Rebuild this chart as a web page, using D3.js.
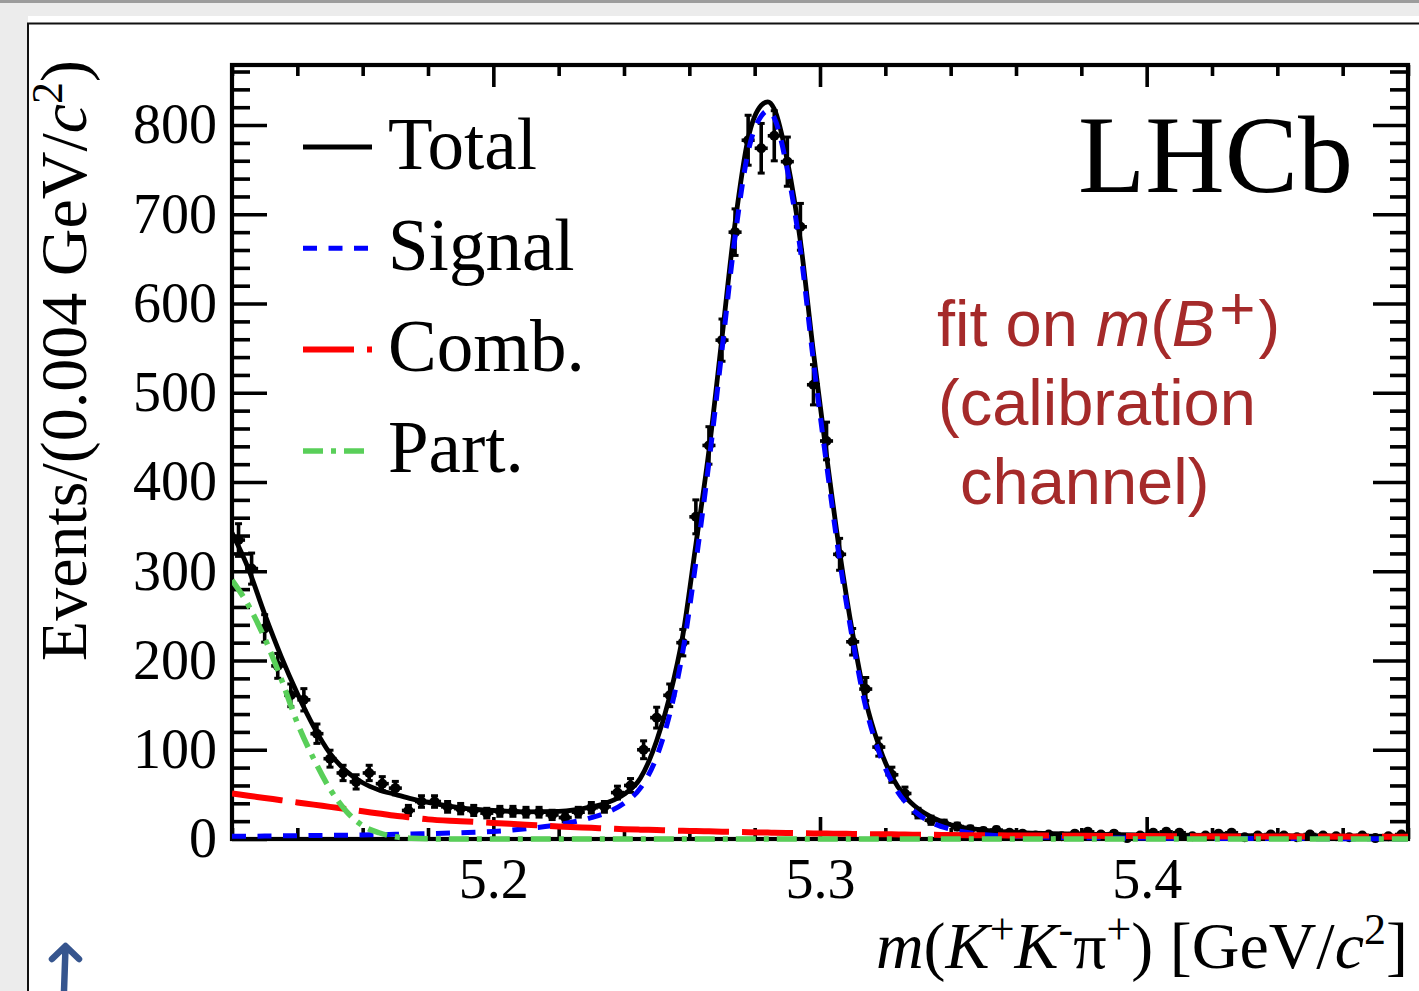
<!DOCTYPE html>
<html>
<head>
<meta charset="utf-8">
<script src="https://cdn.jsdelivr.net/npm/d3@7"></script>
<style>
body { margin: 0; background: #ececec; }
svg { display: block; }
</style>
</head>
<body>
<svg id="chart" width="1419" height="991"></svg>
<script>
// histogram: 90 bins of 0.004 GeV from 5.12 to 5.48
var binLow = 5.12;
var binWidth = 0.004;
var counts = [335, 303, 236, 194, 161, 156, 118, 90, 74, 64,
              74, 62, 57, 32, 42, 42, 36, 34, 32, 29,
              31, 31, 30, 30, 27, 24, 30, 35, 36, 52,
              60, 100, 136, 161, 220, 361, 441, 559, 680, 783,
              774, 788, 759, 686, 509, 446, 319, 221, 168, 103,
              72, 51, 29, 21, 17, 14, 11, 9, 10, 7,
              6, 4, 5, 3, 6, 8, 5, 6, 1, 4,
              7, 8, 7, 3, 4, 6, 7, 2, 4, 5,
              4, 2, 5, 4, 3, 2, 4, 1, 3, 5];

// fit curves
var fitMass = [5.120, 5.125, 5.130, 5.135, 5.140, 5.145, 5.150, 5.155, 5.160, 5.165,
               5.170, 5.175, 5.180, 5.190, 5.200, 5.210, 5.220, 5.230, 5.235, 5.240,
               5.245, 5.250, 5.254, 5.258, 5.262, 5.266, 5.270, 5.274, 5.278, 5.282,
               5.284, 5.286, 5.290, 5.294, 5.298, 5.302, 5.306, 5.310, 5.314, 5.318,
               5.322, 5.326, 5.330, 5.335, 5.340, 5.350, 5.360, 5.380, 5.400, 5.440, 5.480];
var fitTotal = [343, 303, 252, 205, 163, 126, 96, 76, 63, 55,
                50, 45, 41, 35, 32, 30.5, 31, 36, 41, 50,
                68, 110, 160, 228, 330, 435, 562, 690, 785, 822,
                826, 818, 760, 670, 545, 430, 322, 230, 155, 105,
                70, 48, 34, 23, 16, 10, 7.5, 5.5, 4.5, 3.5, 3];
var fitSignal = [3, 3.1, 3.3, 3.5, 3.7, 3.9, 4.1, 4.3, 4.6, 4.9,
                 5.2, 5.6, 6, 7, 8.5, 11.5, 16, 24, 30, 40,
                 57, 92, 140, 210, 310, 422, 548, 675, 770, 810,
                 816, 808, 750, 660, 535, 420, 313, 223, 148, 98,
                 64, 42, 28, 17, 11, 5, 3, 1.5, 1, 0.5, 0.3];
var fitComb = [51, 48.5, 46, 43.5, 41, 38.5, 36, 33.5, 31, 28.5,
               26, 24, 22, 20, 18, 16, 14, 12.5, 11.8, 11,
               10.5, 10, 9.6, 9.2, 8.9, 8.6, 8.2, 7.9, 7.6, 7.3,
               7.2, 7, 6.8, 6.5, 6.3, 6.1, 5.9, 5.7, 5.5, 5.3,
               5.2, 5, 4.8, 4.7, 4.5, 4.2, 4, 3.6, 3.3, 2.8, 2.5];
var fitPart = [290, 262, 225, 180, 130, 90, 56, 31, 15, 7,
               2.5, 0.8, 0.2, 0, 0, 0, 0, 0, 0, 0,
               0, 0, 0, 0, 0, 0, 0, 0, 0, 0,
               0, 0, 0, 0, 0, 0, 0, 0, 0, 0,
               0, 0, 0, 0, 0, 0, 0, 0, 0, 0, 0];

var xMajor = [5.2, 5.3, 5.4];
var yMajor = [0, 100, 200, 300, 400, 500, 600, 700, 800];
var legendNames = ["Total", "Signal", "Comb.", "Part."];
var infoLines = ["fit on", "(calibration", "channel)"];

var serif = "'Liberation Serif', 'Times New Roman', serif";
var sans = "'Liberation Sans', Arial, sans-serif";

var svg = d3.select("#chart");
var plotLeft = 232, plotRight = 1408, plotTop = 65, plotBottom = 839;

// page frame around the figure
svg.append("rect").attr("x", 0).attr("y", 0).attr("width", 1419).attr("height", 3).attr("fill", "#9c9c9c");
svg.append("rect").attr("x", 28).attr("y", 16).attr("width", 1391).attr("height", 975).attr("fill", "#fff");
svg.append("line").attr("x1", 27).attr("x2", 1419).attr("y1", 23.5).attr("y2", 23.5)
    .attr("stroke", "#111").attr("stroke-width", 2);
svg.append("line").attr("x1", 28).attr("x2", 28).attr("y1", 23).attr("y2", 991)
    .attr("stroke", "#111").attr("stroke-width", 2);

var x = d3.scaleLinear().domain([5.12, 5.48]).range([plotLeft, plotRight]);
var y = d3.scaleLinear().domain([0, 867.3]).range([plotBottom, plotTop]);

var xMinor = d3.range(19).map(function(i) { return binLow + 0.02 * i; })
    .filter(function(v) { return xMajor.every(function(m) { return Math.abs(m - v) > 1e-6; }); });
var yMinor = d3.range(44).map(function(i) { return i * 20; })
    .filter(function(v) { return v % 100 != 0; });

function styleAxis(g)
{
    g.select(".domain").remove();
    g.selectAll("line").attr("stroke", "#000").attr("stroke-width", 3.6);
    g.selectAll("text").attr("font-family", serif).attr("font-size", 56).attr("fill", "#000");
}

// bottom / top
svg.append("g").attr("transform", "translate(0," + plotBottom + ")")
    .call(d3.axisBottom(x).tickValues(xMajor).tickSize(-22).tickPadding(19).tickFormat(d3.format(".1f")))
    .call(styleAxis);
svg.append("g").attr("transform", "translate(0," + plotBottom + ")")
    .call(d3.axisBottom(x).tickValues(xMinor).tickSize(-11).tickFormat(""))
    .call(styleAxis);
svg.append("g").attr("transform", "translate(0," + plotTop + ")")
    .call(d3.axisTop(x).tickValues(xMajor).tickSize(-22).tickFormat(""))
    .call(styleAxis);
svg.append("g").attr("transform", "translate(0," + plotTop + ")")
    .call(d3.axisTop(x).tickValues(xMinor).tickSize(-11).tickFormat(""))
    .call(styleAxis);

// left / right
svg.append("g").attr("transform", "translate(" + plotLeft + ",0)")
    .call(d3.axisLeft(y).tickValues(yMajor).tickSize(-35).tickPadding(15))
    .call(styleAxis);
svg.append("g").attr("transform", "translate(" + plotLeft + ",0)")
    .call(d3.axisLeft(y).tickValues(yMinor).tickSize(-18).tickFormat(""))
    .call(styleAxis);
svg.append("g").attr("transform", "translate(" + plotRight + ",0)")
    .call(d3.axisRight(y).tickValues(yMajor).tickSize(-35).tickFormat(""))
    .call(styleAxis);
svg.append("g").attr("transform", "translate(" + plotRight + ",0)")
    .call(d3.axisRight(y).tickValues(yMinor).tickSize(-18).tickFormat(""))
    .call(styleAxis);

svg.append("rect").attr("x", plotLeft).attr("y", plotTop)
    .attr("width", plotRight - plotLeft).attr("height", plotBottom - plotTop)
    .attr("fill", "none").attr("stroke", "#000").attr("stroke-width", 4.2);

// data points
var points = counts.map(function(n, i) {
    return { lo: binLow + binWidth * i, hi: binLow + binWidth * (i + 1), mid: binLow + binWidth * (i + 0.5), n: n };
});
var dataG = svg.append("g").attr("stroke", "#000").attr("stroke-width", 3.6);
var pt = dataG.selectAll("g").data(points).enter().append("g");
pt.append("line")
    .attr("x1", function(d) { return x(d.lo); })
    .attr("x2", function(d) { return x(d.hi); })
    .attr("y1", function(d) { return y(d.n); })
    .attr("y2", function(d) { return y(d.n); });
pt.append("line")
    .attr("x1", function(d) { return x(d.mid); })
    .attr("x2", function(d) { return x(d.mid); })
    .attr("y1", function(d) { return y(d.n + Math.sqrt(d.n)); })
    .attr("y2", function(d) { return y(Math.max(d.n - Math.sqrt(d.n), 0)); });
pt.selectAll(".cap").data(function(d) {
        return [{ m: d.mid, v: d.n + Math.sqrt(d.n) }, { m: d.mid, v: Math.max(d.n - Math.sqrt(d.n), 0) }];
    })
    .enter().append("line").attr("class", "cap").attr("stroke-width", 3)
    .attr("x1", function(c) { return x(c.m) - 3.5; })
    .attr("x2", function(c) { return x(c.m) + 3.5; })
    .attr("y1", function(c) { return y(c.v); })
    .attr("y2", function(c) { return y(c.v); });
pt.append("circle")
    .attr("cx", function(d) { return x(d.mid); })
    .attr("cy", function(d) { return y(d.n); })
    .attr("r", 5).attr("fill", "#000").attr("stroke", "none");

// fit components
svg.append("clipPath").attr("id", "plotClip").append("rect")
    .attr("x", plotLeft).attr("y", plotTop).attr("width", plotRight - plotLeft).attr("height", plotBottom - plotTop + 6);

var curves = [
    { vals: fitTotal, color: "#000", width: 4.8, dash: null },
    { vals: fitSignal, color: "#0000ff", width: 5, dash: "14,11.5" },
    { vals: fitComb, color: "#ff0000", width: 6, dash: "51,13" },
    { vals: fitPart, color: "#59cf59", width: 5.5, dash: "20,8,5,8" }
];

var line = d3.line()
    .x(function(d) { return x(d[0]); })
    .y(function(d) { return y(d[1]); })
    .curve(d3.curveMonotoneX);

var curveG = svg.append("g").attr("clip-path", "url(#plotClip)");
curves.forEach(function(c) {
    curveG.append("path")
        .datum(fitMass.map(function(m, i) { return [m, c.vals[i]]; }))
        .attr("d", line)
        .attr("fill", "none")
        .attr("stroke", c.color)
        .attr("stroke-width", c.width)
        .attr("stroke-dasharray", c.dash);
});

// legend
var leg = svg.append("g");
legendNames.forEach(function(name, i) {
    var yy = 147 + i * 101.3;
    leg.append("line").attr("x1", 303).attr("x2", 372).attr("y1", yy).attr("y2", yy)
        .attr("stroke", curves[i].color).attr("stroke-width", curves[i].width)
        .attr("stroke-dasharray", curves[i].dash);
    leg.append("text").attr("x", 388).attr("y", yy + 21.5)
        .attr("font-family", serif).attr("font-size", 73).text(name);
});

svg.append("text").attr("x", 1353).attr("y", 192).attr("text-anchor", "end")
    .attr("font-family", serif).attr("font-size", 110).text("LHCb");

// annotation
var info = svg.append("text").attr("font-family", sans).attr("font-size", 65).attr("fill", "#a52a2a");
var l1 = info.append("tspan").attr("x", 937).attr("y", 346);
l1.append("tspan").text(infoLines[0] + " ");
l1.append("tspan").attr("font-style", "italic").text("m");
l1.append("tspan").text("(");
l1.append("tspan").attr("font-style", "italic").text("B");
l1.append("tspan").attr("dx", 4).attr("dy", -17).attr("font-size", 62).attr("font-weight", 300).text("+");
l1.append("tspan").attr("dx", 3).attr("dy", 17).text(")");
info.append("tspan").attr("x", 938).attr("y", 425).text(infoLines[1]);
info.append("tspan").attr("x", 960).attr("y", 504).text(infoLines[2]);

// axis titles
var xt = svg.append("text").attr("x", 1408).attr("y", 968).attr("text-anchor", "end")
    .attr("font-family", serif).attr("font-size", 66);
xt.append("tspan").attr("font-style", "italic").text("m");
xt.append("tspan").text("(");
xt.append("tspan").attr("font-style", "italic").text("K");
xt.append("tspan").attr("dy", -24).attr("font-size", 44).text("+");
xt.append("tspan").attr("dy", 24).attr("font-style", "italic").text("K");
xt.append("tspan").attr("dy", -24).attr("font-size", 44).text("-");
xt.append("tspan").attr("dy", 24).text("π");
xt.append("tspan").attr("dy", -24).attr("font-size", 44).text("+");
xt.append("tspan").attr("dy", 24).text(") [GeV/");
xt.append("tspan").attr("font-style", "italic").text("c");
xt.append("tspan").attr("dy", -24).attr("font-size", 44).text("2");
xt.append("tspan").attr("dy", 24).text("]");

var yt = svg.append("text").attr("transform", "translate(86,60) rotate(-90)").attr("text-anchor", "end")
    .attr("font-family", serif).attr("font-size", 66);
yt.append("tspan").text("Events/(0.004 GeV/");
yt.append("tspan").attr("font-style", "italic").text("c");
yt.append("tspan").attr("dy", -24).attr("font-size", 44).text("2");
yt.append("tspan").attr("dy", 24).text(")");

// little arrow at the bottom left
svg.append("path").attr("d", "M64,991 L65.5,948 M52,959 L65.5,946 L79,959")
    .attr("fill", "none").attr("stroke", "#36558e").attr("stroke-width", 6.5)
    .attr("stroke-linecap", "round").attr("stroke-linejoin", "round");
</script>
</body>
</html>
